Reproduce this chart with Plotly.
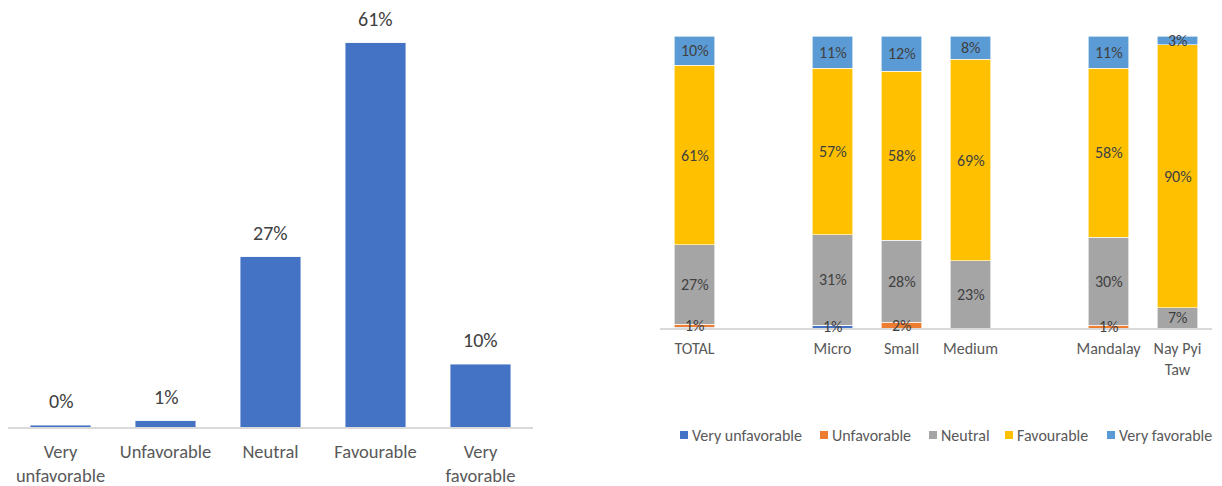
import plotly.graph_objects as go

# ---- data -------------------------------------------------------------
ratings = ["Very unfavorable", "Unfavorable", "Neutral", "Favourable", "Very favorable"]
rating_ticks = ["Very<br>unfavorable", "Unfavorable", "Neutral", "Favourable", "Very<br>favorable"]
overall_pct = [0.3, 1, 27, 61, 10]

groups = ["TOTAL", "Micro", "Small", "Medium", "Mandalay", "Nay Pyi<br>Taw"]
# slot order on the axis, with empty slots separating the groupings
group_slots = ["TOTAL", " ", "Micro", "Small", "Medium", "  ", "Mandalay", "Nay Pyi<br>Taw"]
very_unfavorable = [0.3, 1, 0, 0, 0, 0]
unfavorable = [1, 0, 2, 0, 1, 0]
neutral = [27, 31, 28, 23, 30, 7]
favourable = [61, 57, 58, 69, 58, 90]
very_favorable = [10, 11, 12, 8, 11, 3]

series = [very_unfavorable, unfavorable, neutral, favourable, very_favorable]
colors = ["#4472C4", "#ED7D31", "#A5A5A5", "#FFC000", "#5B9BD5"]

# 100% stacked: each group's column is scaled to sum to 100
totals = [sum(col) for col in zip(*series)]
shares = [[v / t * 100 for v, t in zip(vals, totals)] for vals in series]

FONT = "Carlito, Lato, 'Open Sans', sans-serif"
W, H = 1222, 486

fig = go.Figure()

# ---- left: overall distribution --------------------------------------
fig.add_trace(go.Bar(
    x=ratings, y=overall_pct, marker_color="#4472C4",
    xaxis="x", yaxis="y", showlegend=False, hoverinfo="skip",
))
for cat, v in zip(ratings, overall_pct):
    fig.add_annotation(
        x=cat, y=v, xref="x", yref="y", text=f"{v:.0f}%",
        showarrow=False, yanchor="bottom", yshift=10,
        font=dict(family=FONT, size=20, color="#404040"),
    )

# ---- right: 100% stacked by segment ----------------------------------
for name, vals, col in zip(ratings, shares, colors):
    fig.add_trace(go.Bar(
        x=groups, y=vals, name=name, marker=dict(color=col, line=dict(color="white", width=0.6)),
        xaxis="x2", yaxis="y2", showlegend=False, hoverinfo="skip",
    ))

base = [0.0] * len(groups)
for vals in shares:
    for i, (g, v) in enumerate(zip(groups, vals)):
        if v >= 0.5:
            fig.add_annotation(
                x=g, y=base[i] + v / 2, xref="x2", yref="y2", text=f"{v:.0f}%",
                showarrow=False, yanchor="middle",
                font=dict(family=FONT, size=16, color="#404040"),
            )
        base[i] += v

# legend drawn as colored squares plus labels
legend_x = [680, 820, 929, 1005, 1107]
legend_y = 435
for name, col, lx in zip(ratings, colors, legend_x):
    fig.add_shape(
        type="rect", xref="paper", yref="paper",
        x0=lx / W, x1=(lx + 8) / W,
        y0=1 - (legend_y + 4) / H, y1=1 - (legend_y - 4) / H,
        fillcolor=col, line=dict(width=0),
    )
    fig.add_annotation(
        x=(lx + 10) / W, y=1 - legend_y / H, xref="paper", yref="paper",
        text=name, showarrow=False, xanchor="left", yanchor="middle",
        font=dict(family=FONT, size=16, color="#595959"),
    )

axis_common = dict(
    showgrid=False, zeroline=False, showline=True, linecolor="#D9D9D9", linewidth=1.5,
    ticks="outside", tickcolor="rgba(0,0,0,0)", fixedrange=True,
)

fig.update_layout(
    width=W, height=H,
    margin=dict(l=0, r=0, t=0, b=0),
    paper_bgcolor="white", plot_bgcolor="white",
    barmode="stack", bargap=0.42,
    font=dict(family=FONT, color="#595959"),
    xaxis=dict(
        domain=[8 / W, 533 / W], anchor="y",
        tickvals=ratings, ticktext=rating_ticks, ticklen=7,
        tickfont=dict(size=18.5, color="#595959"), **axis_common,
    ),
    yaxis=dict(
        domain=[1 - 427 / H, 1 - 17.5 / H], anchor="x",
        range=[0, 65], visible=False, fixedrange=True,
    ),
    xaxis2=dict(
        domain=[660 / W, 1212 / W], anchor="y2",
        categoryorder="array", categoryarray=group_slots,
        tickfont=dict(size=16, color="#595959"), ticklen=5, **axis_common,
    ),
    yaxis2=dict(
        domain=[1 - 328 / H, 1 - 36 / H], anchor="x2",
        range=[0, 100], visible=False, fixedrange=True,
    ),
)

fig.write_html("out.html")
